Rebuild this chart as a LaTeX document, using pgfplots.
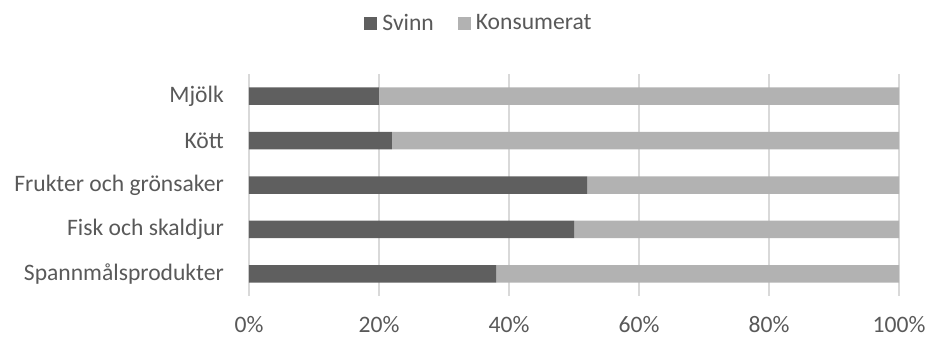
\documentclass[border=0pt]{standalone}
\usepackage{fontspec}
\setmainfont{Carlito}
\usepackage{pgfplots}
\pgfplotsset{compat=1.18}
\definecolor{svinn}{HTML}{5F5F5F}
\definecolor{kons}{HTML}{B2B2B2}
\definecolor{gridc}{HTML}{D9D9D9}
\definecolor{txt}{HTML}{595959}
\begin{document}
\begin{tikzpicture}
\path[use as bounding box] (-249pt,-41pt) rectangle (677pt,296pt);
\begin{axis}[
  at={(0pt,0pt)}, anchor=south west,
  scale only axis, width=650pt, height=222pt,
  xbar stacked, bar width=17.5pt,
  xmin=0, xmax=100, ymin=-0.5, ymax=4.5,
  xtick={0,20,40,60,80,100},
  xticklabels={0\%,20\%,40\%,60\%,80\%,100\%},
  ytick={0,1,2,3,4},
  yticklabels={Spannmålsprodukter,Fisk och skaldjur,Frukter och grönsaker,Kött,Mjölk},
  xmajorgrids, grid style={gridc, line width=1.3pt},
  axis line style={draw=none},
  major tick length=0pt,
  every tick label/.append style={inner sep=0pt, font=\fontsize{23.6}{28}\selectfont, text=txt},
  xticklabel style={yshift=-20pt},
  yticklabel style={xshift=-25pt},
  legend style={draw=none, at={(0.3523,1.2297)}, anchor=center,
    font=\fontsize{23.6}{28}\selectfont, text=txt,
    legend columns=2, inner sep=0pt,
    nodes={inner sep=0pt},
    /tikz/every even column/.append style={column sep=24pt}},
  legend image code/.code={\fill[#1] (0pt,-6.5pt) rectangle (13pt,6.5pt);},
  legend cell align=left,
]
\addplot[fill=svinn, draw=none] coordinates {(38,0) (50,1) (52,2) (22,3) (20,4)};
\addplot[fill=kons, draw=none] coordinates {(62,0) (50,1) (48,2) (78,3) (80,4)};
\legend{\hspace{5pt}Svinn,\hspace{5pt}Konsumerat}
\end{axis}
\end{tikzpicture}
\end{document}
